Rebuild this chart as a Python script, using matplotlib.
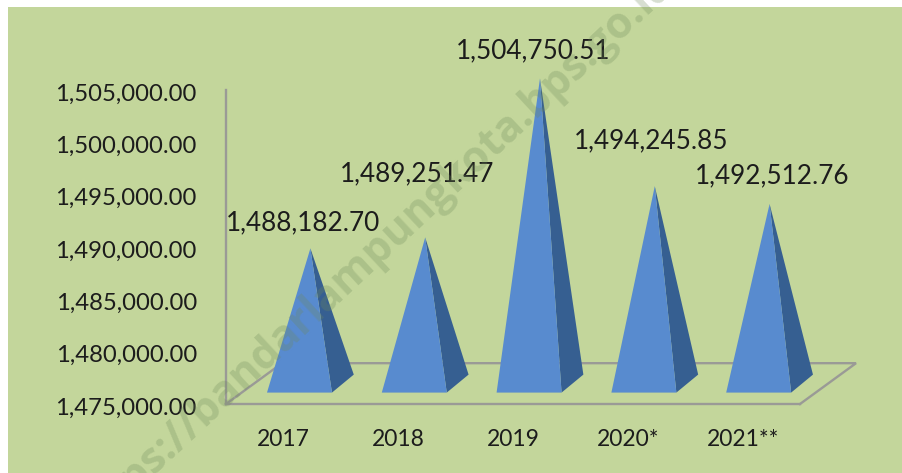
#!/usr/bin/env python
"""Pseudo-3D pyramid chart on a green panel, 2017-2021."""
import matplotlib
matplotlib.use("Agg")
import matplotlib.pyplot as plt
from matplotlib.patches import Polygon, Rectangle
from matplotlib.transforms import ScaledTranslation

categories = ["2017", "2018", "2019", "2020*", "2021**"]
values = [1488182.70, 1489251.47, 1504750.51, 1494245.85, 1492512.76]
yticks = [1475000, 1480000, 1485000, 1490000, 1495000, 1500000, 1505000]
watermark = "https://bandarlampungkota.bps.go.id"

W, H = 903, 473
BG = "#c3d69b"
FRONT = "#588bcf"
SIDE = "#365f91"
GREY = "#9a9a96"
INK = "#1c1c1c"
FONT = "Lato"

YMIN, YMAX = 1475000, 1505000
DEPTH_X, DEPTH_Y = 0.488, 3900     # floor depth in data units
CX, BASE_Y = 0.235, 1950           # pyramid base centre, relative to the floor
HALF_W, HALF_DX, HALF_DY = 0.283, 0.095, 860
FORESHORTEN = 0.98

# label offset from apex, px
label_off = [(-7, 26), (-8, 64), (-7, 28), (-4, 45), (3, 28)]

fig = plt.figure(figsize=(W / 100, H / 100), dpi=100, facecolor="white")
fig.patches.append(Rectangle((8 / W, 0), 1 - 8 / W, 1 - 7 / H, transform=fig.transFigure,
                             facecolor=BG, edgecolor="none", zorder=-5))
ax = fig.add_axes([226 / W, (H - 404) / H, 574 / W, 314 / H])
ax.patch.set_visible(False)
ax.set_xlim(-0.5, 4.5)
ax.set_ylim(YMIN, YMAX)

for s in ("top", "right"):
    ax.spines[s].set_visible(False)
for s in ("left", "bottom"):
    ax.spines[s].set_color(GREY)
    ax.spines[s].set_linewidth(1.7)

ax.set_yticks(yticks)
ax.set_yticklabels([f"{t:,.2f}" for t in yticks], fontsize=17.2, family=FONT, color=INK)
ax.set_xticks(range(len(categories)))
ax.set_xticklabels(categories, fontsize=16.5, family=FONT, color=INK)
ax.tick_params(axis="y", length=0, pad=21)
ax.tick_params(axis="x", length=0, pad=18)
# y labels sit a touch below their tick position in the original
nudge = ScaledTranslation(0, -2 / 100, fig.dpi_scale_trans)
for lab in ax.get_yticklabels():
    lab.set_transform(lab.get_transform() + nudge)

# floor: back and side edges
x0, x1 = -0.5, 4.5
ax.plot([x0, x0 + DEPTH_X, x1 + DEPTH_X, x1],
        [YMIN, YMIN + DEPTH_Y, YMIN + DEPTH_Y, YMIN],
        color=GREY, lw=1.7, clip_on=False, zorder=1, solid_joinstyle="miter")

for i, v in enumerate(values):
    c = i + CX
    by = YMIN + BASE_Y
    apex = (c, by + (v - YMIN) * FORESHORTEN)
    fl = (c - HALF_DX - HALF_W, by - HALF_DY)
    fr = (c - HALF_DX + HALF_W, by - HALF_DY)
    br = (c + HALF_DX + HALF_W, by + HALF_DY)
    ax.add_patch(Polygon([fr, br, apex], closed=True, facecolor=SIDE, edgecolor="none",
                         clip_on=False, zorder=2))
    ax.add_patch(Polygon([fl, fr, apex], closed=True, facecolor=FRONT, edgecolor="none",
                         clip_on=False, zorder=3))
    dx, dy = label_off[i]
    ax.annotate(f"{v:,.2f}", xy=apex, xytext=(dx * 0.72, dy * 0.72), textcoords="offset points",
                ha="center", va="center", fontsize=18.8, family=FONT, color=INK,
                annotation_clip=False, zorder=5)

fig.text(78 / W, 1 - 528 / H, watermark, rotation=43, rotation_mode="anchor",
         ha="left", va="center", fontsize=31, family="Open Sans", fontweight="bold",
         color="#6f8a5a", alpha=0.28, zorder=10)

fig.savefig("out.png", dpi=100, facecolor="white")
plt.close(fig)
